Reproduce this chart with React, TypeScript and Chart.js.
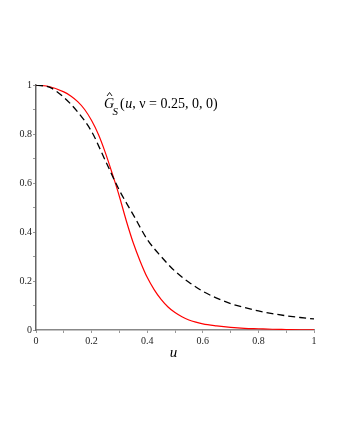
import React, { useEffect, useRef } from "react";
import { Chart, registerables } from "chart.js";

Chart.register(...registerables);

const dashedU = [0, 0.05, 0.1, 0.15, 0.2, 0.25, 0.3, 0.35, 0.4, 0.45, 0.5, 0.55, 0.6, 0.65, 0.7, 0.75, 0.8, 0.85, 0.9, 0.95, 1];
const dashedSeries = [1, 0.99, 0.95, 0.89, 0.81, 0.69, 0.57, 0.47, 0.37, 0.3, 0.24, 0.195, 0.158, 0.13, 0.108, 0.092, 0.078, 0.067, 0.058, 0.051, 0.045];
const redU = [0, 0.05, 0.1, 0.125, 0.15, 0.175, 0.2, 0.225, 0.25, 0.275, 0.3, 0.325, 0.35, 0.375, 0.4, 0.425, 0.45, 0.475, 0.5, 0.525, 0.55, 0.575, 0.6, 0.65, 0.7, 0.75, 0.8, 0.85, 0.9, 0.95, 1];
const redSeries = [1, 0.993, 0.972, 0.955, 0.932, 0.9, 0.855, 0.797, 0.722, 0.636, 0.545, 0.445, 0.355, 0.28, 0.215, 0.165, 0.125, 0.094, 0.071, 0.054, 0.041, 0.032, 0.025, 0.017, 0.011, 0.007, 0.005, 0.003, 0.002, 0.001, 0.001];
const tickLabels = ["0", "", "0.2", "", "0.4", "", "0.6", "", "0.8", "", "1"];

const SERIF = "'Liberation Serif', 'Times New Roman', serif";

const annotationPlugin = {
  id: "annotations",
  afterDraw(chart: any) {
    const ctx = chart.ctx as CanvasRenderingContext2D;
    ctx.save();
    ctx.fillStyle = "#000";
    ctx.textBaseline = "alphabetic";
    ctx.textAlign = "left";
    // Title: Ĝ_S(u, ν = 0.25, 0, 0)
    let x = 104;
    const base = 107.5;
    ctx.font = `italic 14px ${SERIF}`;
    ctx.fillText("G", x, base);
    const gw = ctx.measureText("G").width;
    // hat
    ctx.strokeStyle = "#000";
    ctx.lineWidth = 0.9;
    ctx.beginPath();
    ctx.moveTo(x + gw / 2 - 2.0, 96);
    ctx.lineTo(x + gw / 2 + 0.5, 92.5);
    ctx.lineTo(x + gw / 2 + 3.0, 96);
    ctx.stroke();
    x += gw;
    ctx.font = `italic 11px ${SERIF}`;
    ctx.fillText("S", x - 1.5, base + 7);
    x += ctx.measureText("S").width + 0.5;
    ctx.font = `14px ${SERIF}`;
    ctx.fillText("(", x, base);
    x += ctx.measureText("(").width + 0.5;
    ctx.font = `italic 14px ${SERIF}`;
    ctx.fillText("u", x, base);
    x += ctx.measureText("u").width;
    ctx.font = `14px ${SERIF}`;
    ctx.fillText(", \u03BD = 0.25, 0, 0)", x, base);
    // x-axis title
    ctx.font = `italic 15px ${SERIF}`;
    ctx.textAlign = "center";
    ctx.fillText("u", 173.5, 357);
    ctx.restore();
  },
};

export default function App() {
  const canvasRef = useRef<HTMLCanvasElement>(null);

  useEffect(() => {
    document.body.style.margin = "0";
    const canvas = canvasRef.current;
    if (!canvas) return;
    const chart = new Chart(canvas, {
      type: "line",
      data: {
        datasets: [
          {
            label: "dashed",
            data: dashedU.map((u, i) => ({ x: u, y: dashedSeries[i] })),
            borderColor: "#000000",
            borderWidth: 1.3,
            borderDash: [7, 4],
            pointRadius: 0,
            cubicInterpolationMode: "monotone",
            fill: false,
          },
          {
            label: "red",
            data: redU.map((u, i) => ({ x: u, y: redSeries[i] })),
            borderColor: "#ff0000",
            borderWidth: 1.2,
            pointRadius: 0,
            cubicInterpolationMode: "monotone",
            fill: false,
          },
        ],
      },
      options: {
        animation: false,
        responsive: false,
        maintainAspectRatio: false,
        layout: { padding: { top: 85, right: 26, bottom: 0, left: 0 } },
        plugins: {
          legend: { display: false },
          tooltip: { enabled: false },
          title: { display: false },
        },
        scales: {
          x: {
            type: "linear",
            min: 0,
            max: 1,
            afterFit: (scale: any) => {
              scale.height = 110;
            },
            ticks: {
              stepSize: 0.1,
              autoSkip: false,
              maxRotation: 0,
              padding: 2,
              color: "#222",
              font: { family: SERIF, size: 10 },
              callback: (_v: any, i: number) => tickLabels[i] ?? "",
            },
            grid: { display: true, drawOnChartArea: false, drawTicks: true, tickLength: 3, color: "#999" },
            border: { display: true, color: "#888", width: 1.5 },
          },
          y: {
            type: "linear",
            min: 0,
            max: 1,
            afterFit: (scale: any) => {
              scale.width = 36;
            },
            ticks: {
              stepSize: 0.1,
              autoSkip: false,
              padding: 1,
              color: "#222",
              font: { family: SERIF, size: 10 },
              callback: (_v: any, i: number) => tickLabels[i] ?? "",
            },
            grid: { display: true, drawOnChartArea: false, drawTicks: true, tickLength: 3, color: "#999" },
            border: { display: true, color: "#666", width: 1.5 },
          },
        },
      },
      plugins: [annotationPlugin],
    });
    return () => chart.destroy();
  }, []);

  return (
    <div style={{ width: 340, height: 440, background: "#fff" }}>
      <canvas ref={canvasRef} width={340} height={440} style={{ display: "block", width: 340, height: 440 }} />
    </div>
  );
}
